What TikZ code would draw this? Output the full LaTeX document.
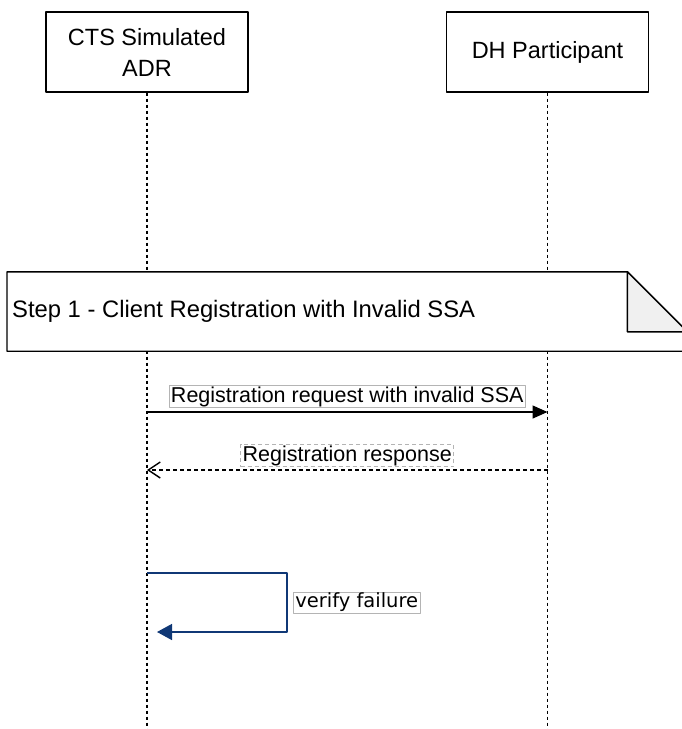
\documentclass[tikz,border=0pt]{standalone}
\usepackage{fontspec}
\setmainfont{Liberation Sans}
\newfontfamily\selffont{DejaVu Sans}
\usetikzlibrary{arrows.meta,positioning}
\definecolor{selfblue}{RGB}{16,56,118}
\definecolor{foldgray}{RGB}{240,240,240}
\definecolor{labelgray}{RGB}{180,180,180}
\tikzset{
  actor/.style={draw,line width=1.4pt,minimum width=202pt,minimum height=80pt,align=center,
    font=\fontsize{23.5}{31}\selectfont},
  lifeline/.style={line width=1.2pt,dash pattern=on 3.5pt off 2.5pt},
  msg/.style={line width=1.4pt},
  msglabel/.style={draw=labelgray,line width=0.7pt,fill=white,inner xsep=2pt,inner ysep=1pt,
    font=\fontsize{21.5}{24}\selectfont}
}
\begin{document}
\begin{tikzpicture}[x=1pt,y=-1pt,line join=round]
	\useasboundingbox (0,0) rectangle (682,729);
	\node[actor] (adr) at (147,52) {CTS Simulated\\ADR};
	\node[actor] (dh) at (547.5,52) {DH Participant};
	\coordinate (adrend) at (adr |- 0,729);
	\coordinate (dhend) at (dh |- 0,729);
	\draw[lifeline] (adr.south) -- (adrend);
	\draw[lifeline] (dh.south) -- (dhend);
	% step note
	\node[anchor=west,minimum width=680pt,minimum height=79pt,inner sep=0pt] (step) at (7,311.5) {};
	\begin{scope}
		\clip (0,0) rectangle (682,729);
		\draw[line width=1.4pt,fill=white] (step.north west) -- ([xshift=-60pt]step.north east)
			-- ([yshift=-60pt]step.north east) -- (step.south east) -- (step.south west) -- cycle;
		\draw[line width=1.4pt,fill=foldgray] ([xshift=-60pt]step.north east)
			-- ([xshift=-60pt,yshift=-60pt]step.north east) -- ([yshift=-60pt]step.north east) -- cycle;
	\end{scope}
	\node[anchor=west,font=\fontsize{23.8}{28}\selectfont,inner sep=0pt] (steptext) at ([xshift=5pt]step.west) {Step 1 - Client Registration with Invalid SSA};
	% messages
	\coordinate (reqa) at (adr |- 0,412);
	\coordinate (reqb) at (dh |- 0,412);
	\draw[msg,-{Triangle[length=15pt,width=13pt]}] (reqa) -- node[msglabel,above=4pt] {Registration request with invalid SSA} (reqb);
	\coordinate (resa) at (dh |- 0,470);
	\coordinate (resb) at (adr |- 0,470);
	\draw[msg,dash pattern=on 4pt off 3pt,-{Straight Barb[length=12pt,width=16pt,line width=1.4pt]}] (resa) -- node[msglabel,above=3pt] {Registration response} (resb);
	% self call
	\coordinate (vfa) at (adr |- 0,573);
	\coordinate (vfb) at (287,573);
	\coordinate (vfc) at (287,632);
	\coordinate (vfd) at ([xshift=10pt]adr |- 0,632);
	\draw[msg,selfblue,-{Triangle[length=15pt,width=16pt]}] (vfa) -- (vfb) -- node[msglabel,right=6pt,text=black,font=\fontsize{19.5}{22}\selffont] {verify failure} (vfc) -- (vfd);
\end{tikzpicture}
\end{document}
